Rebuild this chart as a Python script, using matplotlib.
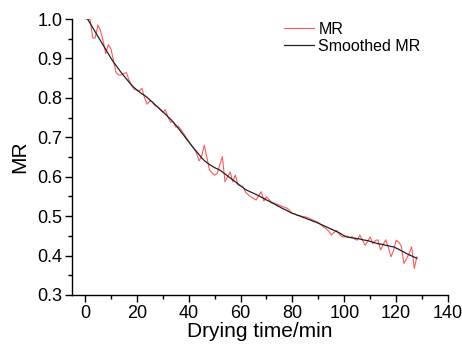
import numpy as np
import matplotlib
matplotlib.use('Agg')
import matplotlib.pyplot as plt
from matplotlib.ticker import MultipleLocator

plt.rcParams['font.family'] = ['Liberation Sans', 'DejaVu Sans']

# measured moisture ratio, one reading per minute (t = 0..128)
time_mr = np.arange(0, 129)
mr = [1.000, 1.000, 0.998, 0.952, 0.952, 0.985, 0.970, 0.945, 0.912, 0.935,
      0.925, 0.895, 0.864, 0.858, 0.858, 0.862, 0.864, 0.845, 0.832, 0.822,
      0.820, 0.818, 0.824, 0.800, 0.784, 0.792, 0.790, 0.780, 0.778, 0.770,
      0.763, 0.770, 0.752, 0.738, 0.740, 0.726, 0.728, 0.720, 0.710, 0.700,
      0.690, 0.680, 0.672, 0.660, 0.640, 0.652, 0.680, 0.650, 0.617, 0.610,
      0.604, 0.608, 0.630, 0.651, 0.587, 0.600, 0.612, 0.587, 0.604, 0.579,
      0.577, 0.574, 0.560, 0.554, 0.549, 0.545, 0.541, 0.552, 0.562, 0.538,
      0.549, 0.542, 0.536, 0.533, 0.530, 0.528, 0.525, 0.522, 0.520, 0.514,
      0.507, 0.505, 0.503, 0.501, 0.499, 0.498, 0.496, 0.493, 0.490, 0.487,
      0.484, 0.478, 0.473, 0.468, 0.462, 0.452, 0.458, 0.464, 0.455, 0.448,
      0.447, 0.450, 0.446, 0.448, 0.442, 0.439, 0.452, 0.440, 0.426, 0.436,
      0.447, 0.430, 0.438, 0.440, 0.414, 0.428, 0.440, 0.420, 0.397, 0.412,
      0.439, 0.434, 0.424, 0.380, 0.392, 0.405, 0.422, 0.367, 0.397]

# smoothed curve (t = 1..128)
time_smooth = np.arange(1, 129)
mr_smooth = [1.000, 0.989, 0.978, 0.967, 0.956, 0.945, 0.934, 0.923, 0.912, 0.901,
             0.891, 0.882, 0.873, 0.864, 0.856, 0.848, 0.840, 0.832, 0.826, 0.820,
             0.815, 0.810, 0.806, 0.801, 0.795, 0.789, 0.783, 0.777, 0.771, 0.765,
             0.759, 0.752, 0.746, 0.739, 0.731, 0.723, 0.714, 0.706, 0.697, 0.689,
             0.680, 0.672, 0.664, 0.656, 0.648, 0.641, 0.636, 0.631, 0.627, 0.623,
             0.620, 0.617, 0.612, 0.607, 0.602, 0.597, 0.592, 0.587, 0.582, 0.577,
             0.572, 0.567, 0.564, 0.561, 0.558, 0.555, 0.552, 0.548, 0.545, 0.541,
             0.538, 0.534, 0.531, 0.527, 0.524, 0.520, 0.517, 0.514, 0.510, 0.507,
             0.505, 0.502, 0.500, 0.497, 0.495, 0.492, 0.490, 0.487, 0.485, 0.482,
             0.479, 0.476, 0.473, 0.470, 0.467, 0.464, 0.461, 0.458, 0.454, 0.450,
             0.447, 0.446, 0.445, 0.444, 0.443, 0.442, 0.440, 0.439, 0.438, 0.436,
             0.434, 0.432, 0.430, 0.429, 0.428, 0.426, 0.425, 0.423, 0.422, 0.419,
             0.416, 0.412, 0.409, 0.405, 0.402, 0.399, 0.396, 0.393]

fig = plt.figure(figsize=(4.62, 3.47), dpi=100)
ax = fig.add_axes([0.1558, 0.1499, 0.8139, 0.7953])

ax.plot(time_mr, mr, color='#ff5a5a', lw=0.8, label='MR')
ax.plot(time_smooth, mr_smooth, color='#222222', lw=0.9, label='Smoothed MR')

ax.set_xlim(-5, 140)
ax.set_ylim(0.3, 1.0)
ax.xaxis.set_major_locator(MultipleLocator(20))
ax.xaxis.set_minor_locator(MultipleLocator(10))
ax.yaxis.set_major_locator(MultipleLocator(0.1))
ax.yaxis.set_minor_locator(MultipleLocator(0.05))
ax.yaxis.set_major_formatter(matplotlib.ticker.FormatStrFormatter('%.1f'))

for side in ['top', 'right']:
    ax.spines[side].set_visible(False)
for side in ['left', 'bottom']:
    ax.spines[side].set_linewidth(1.0)

ax.tick_params(which='major', direction='out', length=5, width=1, labelsize=13, pad=2)
ax.tick_params(which='minor', direction='out', length=3, width=1)

ax.set_xlabel('Drying time/min', fontsize=15, labelpad=0)
ax.set_ylabel('MR', fontsize=15, labelpad=6)

ax.legend(loc='upper left', bbox_to_anchor=(0.543, 1.018), frameon=False, fontsize=11.5,
          borderpad=0, labelspacing=0.1, handlelength=1.9, handletextpad=0.25)

plt.savefig('out.png', dpi=100)
